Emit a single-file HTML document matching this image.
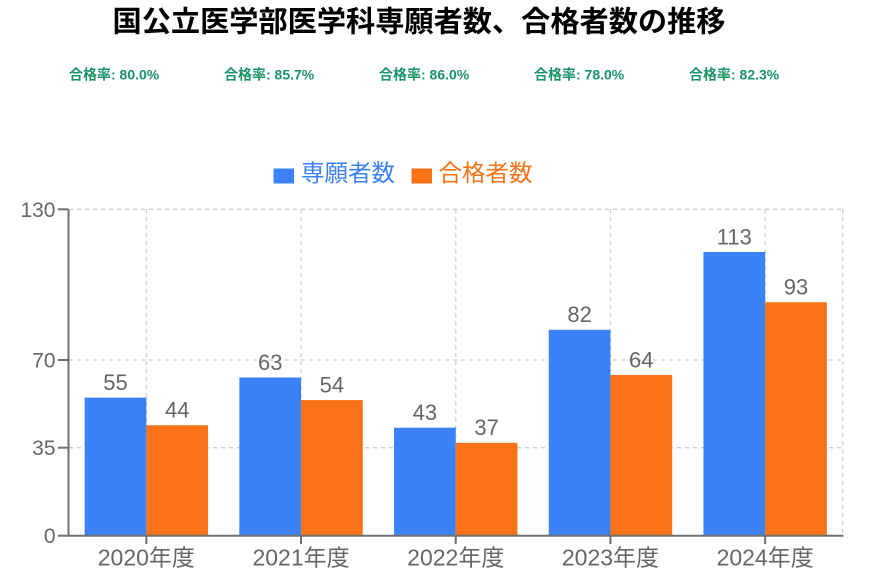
<!DOCTYPE html>
<html>
<head>
<meta charset="utf-8">
<style>
  html,body{margin:0;padding:0;background:#fff;}
  body{width:869px;height:587px;overflow:hidden;}
  svg{display:block;}
</style>
</head>
<body>
<svg width="869" height="587" viewBox="0 0 869 587" xmlns="http://www.w3.org/2000/svg">
  <rect x="0" y="0" width="869" height="587" fill="#fff"/>
  <!-- Title -->
  <text x="419" y="31.5" text-anchor="middle" font-family="'Liberation Sans','Noto Sans CJK JP',sans-serif" font-weight="bold" font-size="29.2" fill="#000">国公立医学部医学科専願者数、合格者数の推移</text>

  <!-- Rates -->
  <g font-family="'Liberation Sans','Noto Sans CJK JP',sans-serif" font-weight="bold" font-size="14" fill="#1a9466">
    <text x="69" y="79.5">合格率: 80.0%</text>
    <text x="224" y="79.5">合格率: 85.7%</text>
    <text x="379" y="79.5">合格率: 86.0%</text>
    <text x="534" y="79.5">合格率: 78.0%</text>
    <text x="689" y="79.5">合格率: 82.3%</text>
  </g>

  <!-- Legend -->
  <rect x="273.5" y="168.5" width="20.5" height="15" fill="#3b82f6"/>
  <text x="301" y="181" font-family="'Liberation Sans','Noto Sans CJK JP',sans-serif" font-size="23.5" fill="#3b82f6">専願者数</text>
  <rect x="411.5" y="168.5" width="20.5" height="15" fill="#f97316"/>
  <text x="438.5" y="181" font-family="'Liberation Sans','Noto Sans CJK JP',sans-serif" font-size="23.5" fill="#f97316">合格者数</text>

  <!-- Grid -->
  <g stroke="#cccccc" stroke-width="1.3" stroke-dasharray="4,4" fill="none">
    <line x1="69" y1="209.3" x2="842.7" y2="209.3"/>
    <line x1="69" y1="360" x2="842.7" y2="360"/>
    <line x1="69" y1="447.7" x2="842.7" y2="447.7"/>
    <line x1="146.35" y1="209.3" x2="146.35" y2="535.7"/>
    <line x1="301.05" y1="209.3" x2="301.05" y2="535.7"/>
    <line x1="455.75" y1="209.3" x2="455.75" y2="535.7"/>
    <line x1="610.45" y1="209.3" x2="610.45" y2="535.7"/>
    <line x1="765.15" y1="209.3" x2="765.15" y2="535.7"/>
    <line x1="842.7" y1="209.3" x2="842.7" y2="535.7"/>
  </g>

  <!-- Bars -->
  <g fill="#3b82f6">
    <rect x="84.65" y="397.6" width="61.7" height="138.1"/>
    <rect x="239.35" y="377.5" width="61.7" height="158.2"/>
    <rect x="394.05" y="427.7" width="61.7" height="108.0"/>
    <rect x="548.75" y="329.8" width="61.7" height="205.9"/>
    <rect x="703.45" y="252.0" width="61.7" height="283.7"/>
  </g>
  <g fill="#f97316">
    <rect x="146.35" y="425.2" width="61.7" height="110.5"/>
    <rect x="301.05" y="400.1" width="61.7" height="135.6"/>
    <rect x="455.75" y="442.8" width="61.7" height="92.9"/>
    <rect x="610.45" y="375.0" width="61.7" height="160.7"/>
    <rect x="765.15" y="302.2" width="61.7" height="233.5"/>
  </g>

  <!-- Value labels -->
  <g font-family="'Liberation Sans',sans-serif" font-size="22" fill="#666" text-anchor="middle">
    <text x="115.5" y="390">55</text>
    <text x="177.2" y="417.6">44</text>
    <text x="270.2" y="369.9">63</text>
    <text x="331.9" y="392.5">54</text>
    <text x="424.9" y="420.1">43</text>
    <text x="486.6" y="435.2">37</text>
    <text x="579.6" y="322.2">82</text>
    <text x="641.3" y="367.4">64</text>
    <text x="734.3" y="244.4">113</text>
    <text x="796.0" y="294.6">93</text>
  </g>

  <!-- Axes -->
  <g stroke="#707070" stroke-width="2" fill="none">
    <line x1="68.5" y1="209.3" x2="68.5" y2="536.5"/>
    <line x1="67.5" y1="535.7" x2="843.5" y2="535.7"/>
    <line x1="58" y1="209.3" x2="68.5" y2="209.3"/>
    <line x1="58" y1="360" x2="68.5" y2="360"/>
    <line x1="58" y1="447.7" x2="68.5" y2="447.7"/>
    <line x1="58" y1="535.7" x2="68.5" y2="535.7"/>
    <line x1="146.35" y1="535.7" x2="146.35" y2="544"/>
    <line x1="301.05" y1="535.7" x2="301.05" y2="544"/>
    <line x1="455.75" y1="535.7" x2="455.75" y2="544"/>
    <line x1="610.45" y1="535.7" x2="610.45" y2="544"/>
    <line x1="765.15" y1="535.7" x2="765.15" y2="544"/>
  </g>

  <!-- Y labels -->
  <g font-family="'Liberation Sans',sans-serif" font-size="21" fill="#666" text-anchor="end">
    <text x="55.5" y="216.8">130</text>
    <text x="55.5" y="367.5">70</text>
    <text x="55.5" y="455.2">35</text>
    <text x="55.5" y="543.2">0</text>
  </g>

  <!-- X labels -->
  <g font-family="'Liberation Sans','Noto Sans CJK JP',sans-serif" font-size="23" fill="#666" text-anchor="middle">
    <text x="146.35" y="565.5">2020年度</text>
    <text x="301.05" y="565.5">2021年度</text>
    <text x="455.75" y="565.5">2022年度</text>
    <text x="610.45" y="565.5">2023年度</text>
    <text x="765.15" y="565.5">2024年度</text>
  </g>
</svg>
</body>
</html>
